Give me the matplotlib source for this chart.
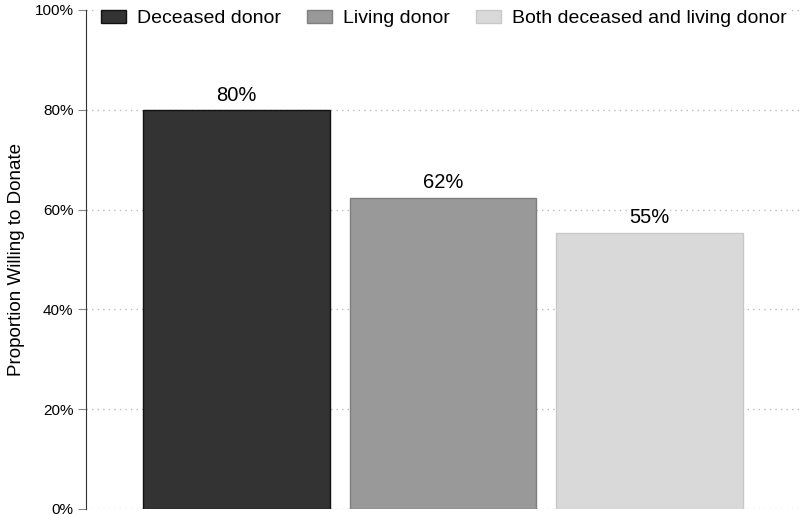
import matplotlib.pyplot as plt
from matplotlib.ticker import PercentFormatter

plt.rcParams['font.family'] = ['Liberation Sans', 'DejaVu Sans']

# --- Data ---
categories = ['Deceased donor', 'Living donor', 'Both deceased and living donor']
values = [79.9, 62.4, 55.4]
bar_colors = ['#333333', '#999999', '#d9d9d9']
edge_colors = ['#111111', '#7f7f7f', '#c8c8c8']
y_ticks = [0, 20, 40, 60, 80, 100]

fig = plt.figure(figsize=(8, 5.15), dpi=100)
ax = fig.add_axes([0.1075, 0.0117, 0.8925, 0.969])

x = range(len(categories))
bars = ax.bar(x, values, width=0.905, color=bar_colors, edgecolor=edge_colors,
              linewidth=1, label=categories, zorder=3)

# value labels above bars
ax.bar_label(bars, labels=[f'{v:.0f}%' for v in values], padding=4, fontsize=14.5)

ax.set_xlim(-0.73, 2.73)
ax.set_ylim(0, 100)
ax.set_yticks(y_ticks)
ax.yaxis.set_major_formatter(PercentFormatter(decimals=0))
ax.tick_params(axis='y', labelsize=11, length=6, color='#888888', pad=3)
ax.set_xticks([])

ax.grid(axis='y', linestyle=(0, (1, 3)), color='#bbbbbb', linewidth=1, zorder=0)
for s in ['top', 'right', 'bottom']:
    ax.spines[s].set_visible(False)
ax.spines['left'].set_color('#333333')

ax.set_ylabel('Proportion Willing to Donate', fontsize=13.5, labelpad=7)

leg = ax.legend(ncol=3, loc='upper left', bbox_to_anchor=(0.0, 1.03), fontsize=14,
                frameon=True, facecolor='white', edgecolor='none', framealpha=1,
                handlelength=1.3, handleheight=0.65, handletextpad=0.55,
                columnspacing=1.35, borderpad=0.25)
leg.set_zorder(5)

fig.savefig('out.png', dpi=100)
